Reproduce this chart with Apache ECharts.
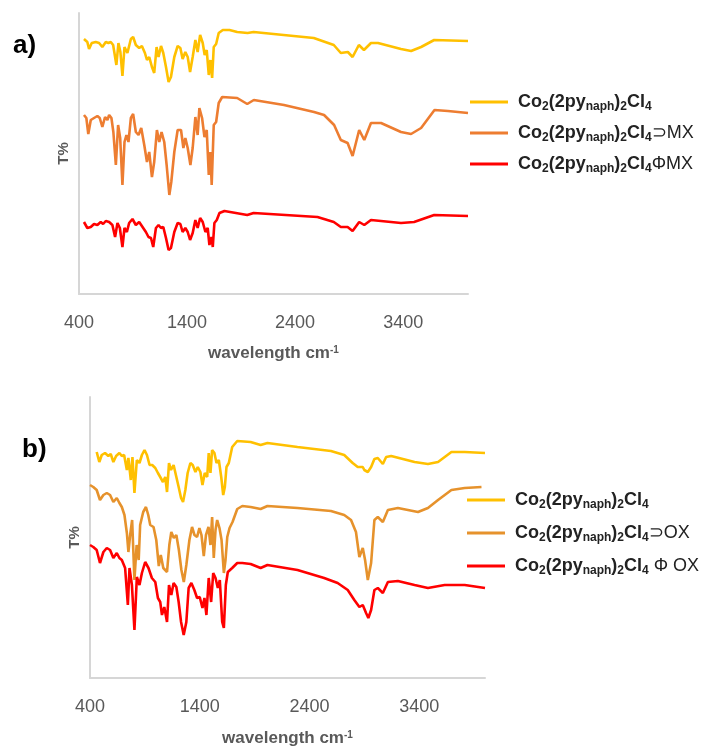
<!DOCTYPE html>
<html><head><meta charset="utf-8">
<script src="https://cdn.jsdelivr.net/npm/echarts@6/dist/echarts.min.js"></script>
<style>html,body{margin:0;padding:0;background:#fff}#c{width:706px;height:751px}</style>
</head><body><div id="c"></div>
<script>
// Tick labels (wavenumber, cm-1)
const xTicks = [400, 1400, 2400, 3400];
const xMin = 400, xMax = 4000;

// Legend tails (after the common formula)
const tailsA = ['', '⊃MX', 'ΦMX'];
const tailsB = ['', '⊃OX', ' Φ OX'];

// ---- Panel a) spectra: [wavenumber cm-1, T% (arbitrary offset units)] ----
const yellowA = [[446,255],[477,252],[493,245],[518,251],[555,252],[586,251],[616,247],[648,252],[672,251],[694,252],[716,249],[746,229],[765,251],[783,242],[802,218],[821,247],[848,241],[880,255],[901,257],[926,249],[957,246],[982,248],[1010,241],[1029,234],[1050,237],[1075,227],[1096,221],[1118,247],[1136,237],[1159,248],[1180,241],[1205,227],[1229,212],[1251,217],[1282,237],[1313,248],[1338,246],[1359,235],[1384,242],[1406,237],[1428,222],[1452,237],[1477,254],[1498,242],[1521,259],[1545,251],[1563,239],[1582,244],[1601,219],[1616,234],[1632,216],[1647,247],[1669,250],[1693,261],[1731,264],[1793,264],[1864,262],[1960,261],[2016,262],[2294,259],[2573,256],[2758,249],[2823,241],[2888,242],[2932,237],[2990,249],[3037,244],[3102,251],[3167,251],[3380,245],[3473,243],[3566,247],[3687,254],[4000,253]];
const orangeA = [[446,179],[468,176],[486,160],[509,174],[539,176],[570,178],[592,176],[616,167],[641,177],[663,174],[679,179],[700,176],[718,162],[741,129],[762,169],[781,156],[802,109],[821,152],[839,159],[858,152],[880,176],[901,180],[926,162],[951,159],[976,166],[1004,149],[1029,132],[1050,142],[1075,117],[1096,132],[1121,164],[1143,152],[1164,162],[1189,152],[1211,129],[1236,99],[1254,112],[1282,142],[1313,164],[1344,164],[1366,146],[1384,156],[1406,146],[1431,129],[1452,146],[1477,177],[1498,159],[1514,186],[1539,176],[1561,157],[1582,164],[1601,119],[1616,142],[1628,109],[1647,169],[1669,172],[1693,191],[1725,197],[1740,198],[1864,196],[1957,190],[2018,194],[2297,189],[2575,182],[2668,179],[2761,169],[2823,154],[2886,151],[2932,138],[2993,164],[3040,154],[3102,171],[3195,171],[3380,162],[3473,160],[3566,166],[3690,184],[3814,183],[4000,181]];
const redA = [[446,72],[477,66],[509,67],[539,70],[570,69],[601,72],[623,70],[648,73],[679,72],[709,69],[734,57],[756,71],[778,66],[802,47],[821,66],[843,62],[864,71],[895,75],[926,69],[957,72],[988,67],[1019,62],[1043,57],[1066,56],[1087,47],[1112,66],[1136,69],[1159,66],[1180,67],[1205,56],[1229,44],[1251,46],[1282,62],[1313,71],[1338,70],[1359,62],[1384,66],[1406,62],[1428,54],[1452,61],[1477,74],[1498,66],[1521,76],[1545,72],[1570,62],[1591,66],[1607,49],[1626,57],[1638,47],[1653,71],[1675,74],[1700,81],[1746,83],[1957,79],[2016,81],[2607,77],[2758,72],[2823,67],[2886,67],[2932,63],[2993,72],[3040,69],[3102,74],[3380,71],[3501,72],[3687,79],[4000,78]];

// ---- Panel b) spectra ----
const yellowB = [[461,226],[485,216],[507,223],[537,225],[567,222],[589,224],[613,216],[638,222],[668,225],[690,222],[711,223],[736,208],[750,220],[772,198],[787,221],[805,185],[827,218],[851,215],[873,223],[897,228],[919,223],[943,213],[967,213],[995,210],[1019,205],[1040,201],[1065,196],[1086,201],[1102,186],[1120,215],[1138,208],[1162,213],[1187,201],[1208,191],[1230,180],[1248,176],[1269,188],[1290,205],[1315,215],[1336,213],[1361,206],[1382,211],[1406,206],[1425,193],[1446,205],[1468,201],[1482,225],[1498,205],[1513,228],[1534,225],[1553,215],[1574,218],[1596,201],[1614,183],[1629,191],[1644,211],[1665,215],[1696,231],[1742,237],[1864,236],[1955,233],[2017,235],[2291,231],[2596,227],[2717,223],[2794,215],[2840,211],[2886,211],[2900,208],[2932,206],[2962,211],[2992,219],[3023,220],[3069,214],[3099,221],[3145,222],[3358,216],[3480,214],[3572,216],[3694,226],[3815,226],[4000,225]];
const orangeB = [[400,193],[430,191],[461,188],[491,178],[522,183],[553,185],[583,183],[613,176],[644,180],[668,175],[690,171],[714,163],[736,145],[750,126],[766,143],[784,158],[805,98],[825,133],[844,118],[857,153],[885,166],[910,171],[931,163],[949,153],[979,151],[1004,138],[1027,112],[1045,123],[1068,110],[1102,106],[1123,133],[1141,146],[1164,140],[1187,143],[1210,128],[1233,108],[1255,96],[1278,113],[1306,138],[1330,151],[1352,143],[1376,141],[1397,150],[1416,143],[1437,122],[1457,143],[1480,151],[1498,133],[1513,161],[1528,120],[1544,148],[1559,158],[1580,150],[1599,138],[1620,105],[1635,118],[1651,141],[1672,150],[1699,156],[1742,169],[1788,172],[1864,171],[1955,169],[2017,172],[2291,170],[2596,167],[2717,163],[2779,158],[2824,146],[2855,121],[2886,130],[2907,118],[2932,98],[2962,115],[2992,158],[3023,161],[3069,156],[3115,168],[3206,170],[3389,166],[3480,170],[3572,178],[3694,188],[3815,190],[3968,191]];
const redB = [[400,133],[430,131],[461,128],[491,115],[522,126],[553,130],[583,128],[613,120],[644,125],[668,120],[690,118],[720,110],[745,73],[760,110],[782,93],[805,48],[827,101],[851,93],[873,105],[903,116],[933,110],[964,100],[995,96],[1019,80],[1040,76],[1056,63],[1077,71],[1102,56],[1120,93],[1141,83],[1162,95],[1187,91],[1208,76],[1230,56],[1254,43],[1278,56],[1299,90],[1324,95],[1351,88],[1376,80],[1400,81],[1425,70],[1443,80],[1461,63],[1482,100],[1504,76],[1523,105],[1544,100],[1565,90],[1583,98],[1605,56],[1620,50],[1638,93],[1656,106],[1696,110],[1742,115],[1788,115],[1864,114],[1955,110],[2017,113],[2291,108],[2534,100],[2657,95],[2749,88],[2809,78],[2855,71],[2886,73],[2916,65],[2937,60],[2962,68],[2992,88],[3023,90],[3069,85],[3115,96],[3206,97],[3358,93],[3480,90],[3632,93],[3815,93],[4000,90]];

const COL_Y = '#FFC000', COL_OA = '#ED7D31', COL_OB = '#E6922C', COL_R = '#FF0000';
const FONT = "'Liberation Sans', Arial, sans-serif";

function legendLabel(tail) {
  let s = '{m|Co}{s|2}{m|(2py}{s|naph}{m|)}{s|2}{m|Cl}{s|4}';
  if (tail) s += '{t|' + tail + '}';
  return s;
}
const legendRich = {
  m: {fontSize: 18, fontWeight: 'bold', color: '#222', fontFamily: FONT, lineHeight: 22},
  s: {fontSize: 12, fontWeight: 'bold', color: '#222', fontFamily: FONT, lineHeight: 12, verticalAlign: 'bottom'},
  t: {fontSize: 18, color: '#222', fontFamily: FONT, lineHeight: 22}
};
const nameMap = {a1: tailsA[0], a2: tailsA[1], a3: tailsA[2], b1: tailsB[0], b2: tailsB[1], b3: tailsB[2]};

function xAxisCfg(gi, gap) {
  return {
    type: 'value', gridIndex: gi, min: xMin, max: xMax, interval: 1000,
    axisLine: {lineStyle: {color: '#D6D6D6', width: 2}},
    axisTick: {show: false}, splitLine: {show: false},
    axisLabel: {color: '#595959', fontSize: 18, fontFamily: FONT, margin: 20,
      formatter: v => xTicks.indexOf(v) >= 0 ? String(v) : ''},
    name: 'wavelength cm{sup|-1}', nameLocation: 'middle', nameGap: gap,
    nameTextStyle: {color: '#595959', fontSize: 17, fontWeight: 'bold', fontFamily: FONT,
      rich: {sup: {fontSize: 10, fontWeight: 'bold', color: '#595959', verticalAlign: 'top', lineHeight: 10}}}
  };
}
function yAxisCfg(gi) {
  return {
    type: 'value', gridIndex: gi, min: 0, max: 281,
    axisLine: {show: true, lineStyle: {color: '#D6D6D6', width: 2}},
    axisTick: {show: false}, splitLine: {show: false}, axisLabel: {show: false},
    name: 'T%', nameLocation: 'middle', nameGap: 8, nameRotate: 90,
    nameTextStyle: {color: '#595959', fontSize: 15, fontWeight: 'bold', fontFamily: FONT}
  };
}
function line(name, data, color, xi) {
  return {type: 'line', name, data, xAxisIndex: xi, yAxisIndex: xi, showSymbol: false,
    lineStyle: {color, width: 2.6}, itemStyle: {color}, animation: false, silent: true};
}

const chart = echarts.init(document.getElementById('c'), null, {renderer: 'canvas'});
chart.setOption({
  backgroundColor: '#fff',
  animation: false,
  title: [
    {text: 'a)', left: 8, top: 28, textStyle: {fontSize: 26, fontWeight: 'bold', color: '#000', fontFamily: FONT}},
    {text: 'b)', left: 17, top: 432, textStyle: {fontSize: 26, fontWeight: 'bold', color: '#000', fontFamily: FONT}}
  ],
  grid: [
    {left: 79, top: 13, width: 389, height: 281},
    {left: 90, top: 397, width: 395, height: 281}
  ],
  xAxis: [xAxisCfg(0, 51), xAxisCfg(1, 52)],
  yAxis: [yAxisCfg(0), yAxisCfg(1)],
  legend: [
    {data: ['a1', 'a2', 'a3'], orient: 'vertical', left: 470, top: 93, itemGap: 11, padding: 0,
     itemWidth: 38, itemHeight: 3, icon: 'rect', selectedMode: false,
     formatter: n => legendLabel(nameMap[n]), textStyle: {rich: legendRich, padding: [0, 0, 0, 5]}},
    {data: ['b1', 'b2', 'b3'], orient: 'vertical', left: 467, top: 491, itemGap: 13, padding: 0,
     itemWidth: 38, itemHeight: 3, icon: 'rect', selectedMode: false,
     formatter: n => legendLabel(nameMap[n]), textStyle: {rich: legendRich, padding: [0, 0, 0, 5]}}
  ],
  series: [
    line('a1', yellowA, COL_Y, 0), line('a2', orangeA, COL_OA, 0), line('a3', redA, COL_R, 0),
    line('b1', yellowB, COL_Y, 1), line('b2', orangeB, COL_OB, 1), line('b3', redB, COL_R, 1)
  ]
});
</script></body></html>
